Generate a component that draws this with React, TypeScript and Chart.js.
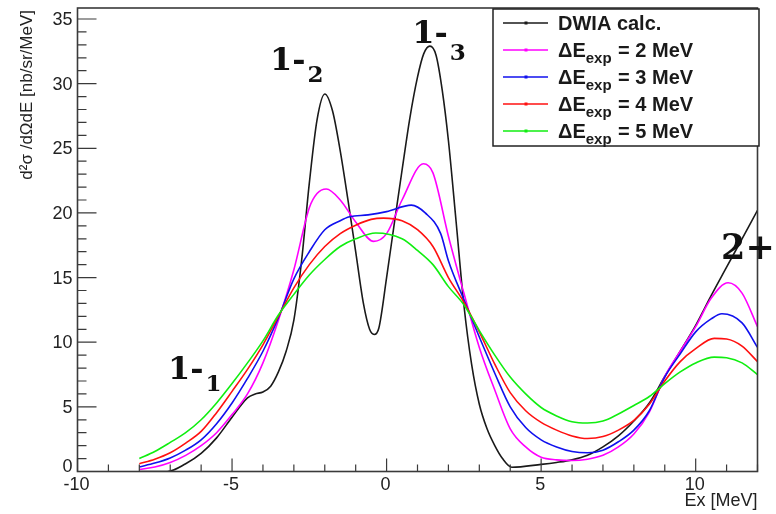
import { useEffect, useRef } from 'react';
import { Chart, registerables } from 'chart.js';

Chart.register(...registerables);

const W = 776;
const H = 514;

// ---- data ----
const dwiaX = [-8, -7.5, -7.1, -6.5, -6, -5.5, -5, -4.5, -4.25, -4, -3.75, -3.5, -3.25, -3, -2.75, -2.5, -2.25, -2, -1.75, -1.5, -1.25, -1, -0.75, -0.55, -0.4, -0.25, 0, 0.25, 0.5, 0.75, 1, 1.2, 1.4, 1.6, 1.8, 2, 2.25, 2.5, 2.75, 3, 3.25, 3.5, 3.75, 4.05, 5, 5.5, 6, 6.5, 7, 7.5, 8, 8.5, 9, 9.5, 10, 10.5, 11, 11.5, 12];
const dwiaY = [0, 0, 0, 0.6, 1.4, 2.6, 4.2, 5.7, 6.0, 6.15, 6.6, 7.7, 9.3, 11.7, 16.3, 22.3, 27.2, 29.2, 27.9, 24.8, 21.0, 17.0, 13.0, 11.0, 10.6, 11.1, 15.0, 19.2, 23.3, 27.3, 30.5, 32.3, 32.9, 32.2, 29.5, 25.6, 19.3, 12.9, 8.3, 5.2, 3.3, 2.0, 1.0, 0.33, 0.55, 0.7, 0.9, 1.25, 1.9, 2.75, 3.9, 5.3, 7.35, 9.3, 11.3, 13.6, 15.8, 18.0, 20.2];

const res2X = [-8, -7.5, -7, -6.5, -6, -5.5, -5, -4.5, -4, -3.5, -3, -2.5, -2.25, -1.95, -1.5, -1, -0.42, 0, 0.5, 1.19, 1.5, 2, 2.5, 3, 3.5, 4, 4.5, 5, 5.5, 6, 6.5, 7, 7.5, 8, 8.5, 9, 9.5, 10, 10.5, 11.05, 11.5, 12];
const res2Y = [0.15, 0.35, 0.7, 1.25, 2.0, 3.0, 4.4, 6.0, 8.4, 11.7, 15.6, 20.4, 21.5, 21.85, 21.0, 19.3, 17.8, 18.4, 21.0, 23.8, 23.1, 18.2, 13.8, 9.6, 6.3, 3.3, 1.9, 1.1, 0.9, 0.85, 0.95, 1.25, 1.9, 2.9, 4.6, 7.35, 9.3, 11.2, 13.4, 14.6, 13.8, 11.2];

const res3X = [-8, -7.5, -7, -6.5, -6, -5.5, -5, -4.5, -4, -3.5, -3, -2.5, -2, -1.5, -1.2, -0.6, 0, 0.8, 1.25, 1.75, 2, 2.5, 3, 3.5, 4, 4.5, 5, 5.5, 6, 6.5, 7, 7.5, 8, 8.5, 9, 9.5, 10, 10.5, 10.85, 11.5, 12];
const res3Y = [0.35, 0.65, 1.05, 1.65, 2.45, 3.7, 5.3, 7.2, 9.3, 11.9, 14.9, 17.0, 18.7, 19.4, 19.7, 19.85, 20.1, 20.6, 20.0, 18.4, 16.3, 13.3, 10.4, 7.6, 5.0, 3.4, 2.45, 1.9, 1.55, 1.45, 1.65, 2.3, 3.2, 4.7, 7.3, 9.1, 10.8, 11.8, 12.2, 11.5, 9.6];

const res4X = [-8, -7.5, -7, -6.5, -6, -5.5, -5, -4.5, -4, -3.5, -3, -2.5, -2, -1.5, -1, -0.5, -0.1, 0.5, 1, 1.5, 2, 2.5, 3, 3.5, 4, 4.5, 5, 5.5, 6, 6.5, 7, 7.5, 8, 8.5, 9, 9.5, 10, 10.6, 11, 11.5, 12];
const res4Y = [0.6, 0.95, 1.45, 2.2, 3.1, 4.55, 6.2, 7.9, 9.8, 12.0, 14.2, 16.0, 17.4, 18.4, 19.05, 19.5, 19.6, 19.4, 18.7, 17.4, 15.0, 13.1, 10.8, 8.3, 6.1, 4.7, 3.8, 3.2, 2.75, 2.55, 2.7, 3.2, 3.95, 5.2, 7.0, 8.5, 9.5, 10.3, 10.25, 9.7, 8.5];

const res5X = [-8, -7.5, -7, -6.5, -6, -5.5, -5, -4.5, -4, -3.5, -3, -2.5, -2, -1.5, -1, -0.35, 0.5, 1, 1.5, 2, 2.5, 3, 3.5, 4, 4.5, 5, 5.5, 6, 6.5, 7, 7.5, 8, 8.5, 9, 9.5, 10, 10.6, 11, 11.5, 12];
const res5Y = [1.0, 1.55, 2.25, 3.0, 4.0, 5.3, 6.8, 8.4, 10.1, 12.1, 13.7, 15.2, 16.4, 17.4, 18.0, 18.45, 18.0, 17.1, 16.0, 14.3, 12.9, 10.9, 9.0, 7.3, 6.0, 4.95, 4.3, 3.85, 3.75, 3.9, 4.45, 5.1, 5.8, 6.8, 7.7, 8.4, 8.85, 8.8, 8.4, 7.5];

const resolutions = [2, 3, 4, 5]; // MeV

const xMajorTicks = [-10, -5, 0, 5, 10];
const yMajorTicks = [0, 5, 10, 15, 20, 25, 30, 35];
const xMin = -10;
const xMax = 12;
const yMin = 0;
const yMax = 35.85;

const xTitle = 'Ex [MeV]';
const yTitle = 'd\u00B2\u03C3 /d\u03A9dE [nb/sr/MeV]';

// state labels, anchored in data coordinates
const stateLabels = [
  { main: '1-', sub: '2', x: -3.77, y: 31.05, subDy: 12, size: 32 },
  { main: '1-', sub: '3', x: 0.83, y: 33.15, subDy: 17, size: 32 },
  { main: '1-', sub: '1', x: -7.07, y: 7.15, subDy: 12, size: 32 },
  { main: '2+', sub: '', x: 10.82, y: 16.4, subDy: 0, size: 35 },
];

const colors = ['#1a1a1a', '#ff00ff', '#1010ee', '#ff1010', '#10ee10'];

const zip = (xs: number[], ys: number[]) => xs.map((x, i) => ({ x, y: ys[i] }));

const SANS = '"Liberation Sans", Arial, Helvetica, sans-serif';

const rootPlugin = {
  id: 'rootStyle',
  beforeDraw(chart: any) {
    const ctx = chart.ctx;
    ctx.save();
    ctx.fillStyle = '#ffffff';
    ctx.fillRect(0, 0, chart.width, chart.height);
    ctx.restore();
  },
  afterDatasetsDraw(chart: any) {
    const ctx: CanvasRenderingContext2D = chart.ctx;
    const xs = chart.scales.x;
    const ys = chart.scales.y;
    const { left, right, top, bottom } = chart.chartArea;
    ctx.save();
    // frame
    ctx.strokeStyle = '#3a3a3a';
    ctx.lineWidth = 1.6;
    ctx.strokeRect(left, top, right - left, bottom - top);

    // ticks
    ctx.lineWidth = 1.2;
    ctx.beginPath();
    for (let v = yMin; v <= yMax; v += 1) {
      const py = ys.getPixelForValue(v);
      const len = yMajorTicks.includes(v) ? 19 : 9;
      ctx.moveTo(left, py);
      ctx.lineTo(left + len, py);
    }
    for (let v = xMin; v <= xMax; v += 1) {
      const px = xs.getPixelForValue(v);
      const len = xMajorTicks.includes(v) ? 13 : 7;
      ctx.moveTo(px, bottom);
      ctx.lineTo(px, bottom - len);
    }
    ctx.stroke();

    // tick labels
    ctx.fillStyle = '#222';
    ctx.font = `18px ${SANS}`;
    ctx.textAlign = 'right';
    ctx.textBaseline = 'middle';
    yMajorTicks.forEach((v) => {
      const py = ys.getPixelForValue(v);
      ctx.fillText(String(v), left - 5, v === 0 ? py - 4 : py + 1);
    });
    ctx.textAlign = 'center';
    ctx.textBaseline = 'top';
    xMajorTicks.forEach((v) => {
      ctx.fillText(String(v), xs.getPixelForValue(v) - 1, bottom + 5);
    });

    // axis titles
    ctx.font = `18px ${SANS}`;
    ctx.textAlign = 'right';
    ctx.textBaseline = 'middle';
    ctx.fillText(xTitle, right, bottom + 30);

    ctx.save();
    ctx.font = `17px ${SANS}`;
    ctx.translate(27, top + 2);
    ctx.rotate(-Math.PI / 2);
    ctx.textAlign = 'right';
    ctx.textBaseline = 'middle';
    ctx.fillText(yTitle, 0, 0);
    ctx.restore();

    // state labels
    ctx.fillStyle = '#111';
    ctx.textAlign = 'left';
    ctx.textBaseline = 'alphabetic';
    stateLabels.forEach((s) => {
      const px = xs.getPixelForValue(s.x);
      const py = ys.getPixelForValue(s.y);
      ctx.font = `bold ${s.size}px "DejaVu Serif", serif`;
      ctx.fillText(s.main, px, py);
      const w = ctx.measureText(s.main).width;
      if (s.sub) {
        ctx.font = `bold ${Math.round(s.size * 0.72)}px "DejaVu Serif", serif`;
        ctx.fillText(s.sub, px + w + 2, py + s.subDy);
      }
    });

    // legend
    const lx = 493, ly = 9, lw = 266, lh = 137;
    ctx.fillStyle = '#ffffff';
    ctx.fillRect(lx, ly, lw, lh);
    ctx.strokeStyle = '#222';
    ctx.lineWidth = 1.5;
    ctx.strokeRect(lx, ly, lw, lh);
    const rows = [23, 50, 77, 104, 131];
    const names = ['DWIA calc.', ...resolutions.map(() => '\u0394E')];
    rows.forEach((ry, i) => {
      ctx.strokeStyle = colors[i];
      ctx.lineWidth = 1.5;
      ctx.beginPath();
      ctx.moveTo(503, ry);
      ctx.lineTo(548, ry);
      ctx.stroke();
      ctx.fillStyle = colors[i];
      ctx.fillRect(524.5, ry - 1.5, 3, 3);
      ctx.fillStyle = '#1a1a1a';
      ctx.font = `bold 20px ${SANS}`;
      ctx.textAlign = 'left';
      ctx.textBaseline = 'alphabetic';
      if (i === 0) {
        ctx.fillText(names[0], 558, ry + 7);
      } else {
        let x = 558;
        ctx.fillText(names[i], x, ry + 7);
        x += ctx.measureText(names[i]).width;
        ctx.font = `bold 15px ${SANS}`;
        ctx.fillText('exp', x, ry + 13);
        x += ctx.measureText('exp').width;
        ctx.font = `bold 20px ${SANS}`;
        ctx.fillText(` = ${resolutions[i - 1]} MeV`, x + 1, ry + 7);
      }
    });
    ctx.restore();
  },
};

export default function App() {
  const ref = useRef<HTMLCanvasElement>(null);
  useEffect(() => {
    document.body.style.margin = '0';
    const seriesX = [dwiaX, res2X, res3X, res4X, res5X];
    const seriesY = [dwiaY, res2Y, res3Y, res4Y, res5Y];
    const labels = ['DWIA calc.', ...resolutions.map((r) => `\u0394Eexp = ${r} MeV`)];
    const chart = new Chart(ref.current as HTMLCanvasElement, {
      type: 'line',
      data: {
        datasets: seriesX.map((xs, i) => ({
          label: labels[i],
          data: zip(xs, seriesY[i]),
          borderColor: colors[i],
          borderWidth: 1.6,
          pointRadius: 0,
          fill: false,
          cubicInterpolationMode: 'monotone' as const,
          order: 5 - i,
        })),
      },
      options: {
        responsive: false,
        devicePixelRatio: 1,
        animation: false,
        layout: { padding: { left: 77.5, right: 18.5, top: 8, bottom: 42.5 } },
        scales: {
          x: { type: 'linear', display: false, min: xMin, max: xMax },
          y: { type: 'linear', display: false, min: yMin, max: yMax },
        },
        plugins: {
          legend: { display: false },
          tooltip: { enabled: false },
        },
      },
      plugins: [rootPlugin],
    });
    return () => chart.destroy();
  }, []);
  return (
    <div style={{ position: 'absolute', left: 0, top: 0, width: W, height: H }}>
      <canvas ref={ref} width={W} height={H} style={{ width: W, height: H, display: 'block' }} />
    </div>
  );
}
